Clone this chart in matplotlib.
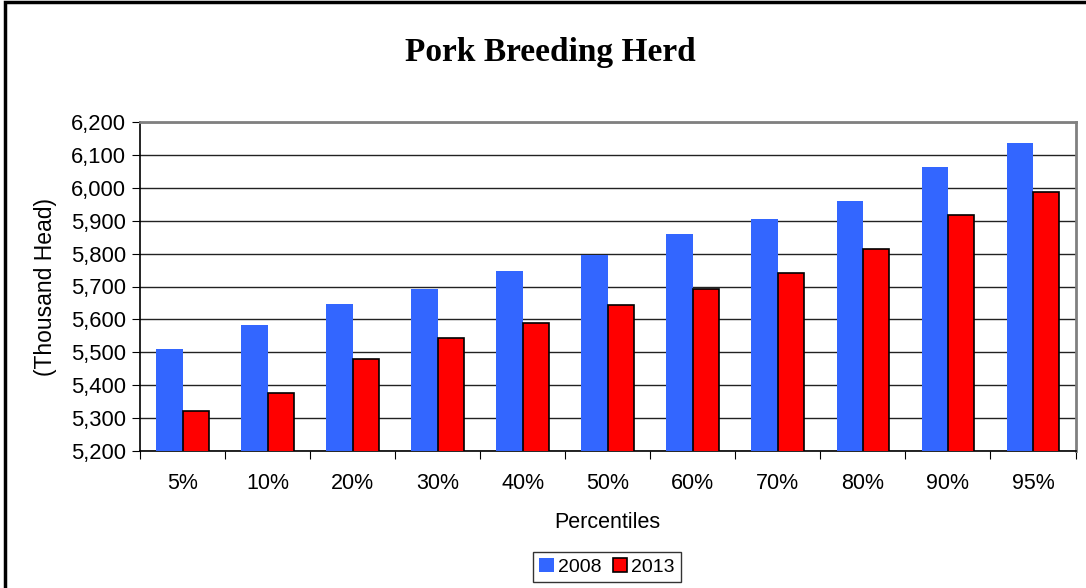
import matplotlib
matplotlib.use("Agg")
import matplotlib.pyplot as plt
import numpy as np
from matplotlib.patches import Rectangle
from matplotlib.ticker import FuncFormatter

categories = ["5%", "10%", "20%", "30%", "40%", "50%", "60%", "70%", "80%", "90%", "95%"]
herd_2008 = [5511, 5582, 5647, 5693, 5746, 5795, 5860, 5905, 5959, 6064, 6137]
herd_2013 = [5323, 5376, 5480, 5543, 5590, 5645, 5693, 5741, 5815, 5917, 5987]
series_names = ["2008", "2013"]

plt.rcParams['font.family'] = ['Liberation Sans', 'DejaVu Sans']

W, H = 1086, 588
fig = plt.figure(figsize=(W / 100, H / 100), dpi=100)
ax = fig.add_axes([140 / W, 1 - 451 / H, (1075.5 - 140) / W, (451 - 122) / H])

x = np.arange(len(categories))
bw = 0.31
ax.bar(x - bw / 2, herd_2008, width=bw, color="#3366FF", edgecolor="none",
       label=series_names[0], zorder=3)
ax.bar(x + bw / 2, herd_2013, width=bw, color="#FF0000", edgecolor="black",
       linewidth=1.2, label=series_names[1], zorder=3)

ax.set_xlim(-0.5, len(categories) - 0.5)
ax.set_ylim(5200, 6200)
ax.set_yticks(np.arange(5200, 6201, 100))
ax.yaxis.set_major_formatter(FuncFormatter(lambda v, p: f"{int(v):,}"))
ax.yaxis.grid(True, color="#222222", linewidth=1.0, zorder=0)
ax.set_axisbelow(True)

ax.set_xticks(np.arange(len(categories) + 1) - 0.5, minor=False)
ax.set_xticklabels([])
ax.set_xticks(x, minor=True)
ax.set_xticklabels(categories, minor=True)
ax.tick_params(axis="x", which="minor", length=0, labelsize=15.5, pad=16)
ax.tick_params(axis="x", which="major", length=6, direction="out", color="black")
ax.tick_params(axis="y", length=6, direction="out", labelsize=15.8, pad=4)

for s in ["left", "bottom"]:
    ax.spines[s].set_color("black")
    ax.spines[s].set_linewidth(1.2)
ax.spines["right"].set_color("#808080")
ax.spines["right"].set_linewidth(2)
ax.spines["top"].set_color("#808080")
ax.spines["top"].set_linewidth(2)

ax.set_xlabel("Percentiles", fontsize=15.5, labelpad=13)
ax.set_ylabel("(Thousand Head)", fontsize=16.5, labelpad=10)

fig.text((404 + 697) / 2 / W, 1 - 53 / H, "Pork Breeding Herd", ha="center", va="center",
         fontsize=24, fontweight="bold", family=["Liberation Serif", "DejaVu Serif"])

leg = ax.legend(loc="center", bbox_to_anchor=((532 + 682) / 2 / W, 1 - 567 / H),
                bbox_transform=fig.transFigure, ncol=2, frameon=True, fancybox=False,
                fontsize=14, handlelength=0.75, handleheight=0.75, handletextpad=0.2,
                columnspacing=0.6, borderpad=0.3, borderaxespad=0)
leg.get_frame().set_edgecolor("black")
leg.get_frame().set_linewidth(1.0)

border = Rectangle((5 / W, -0.05), 1.05, 1.05 - 2 / H, transform=fig.transFigure,
                   fill=False, edgecolor="black", linewidth=2.5)
fig.patches.append(border)

fig.savefig("out.png", dpi=100, facecolor="white")
